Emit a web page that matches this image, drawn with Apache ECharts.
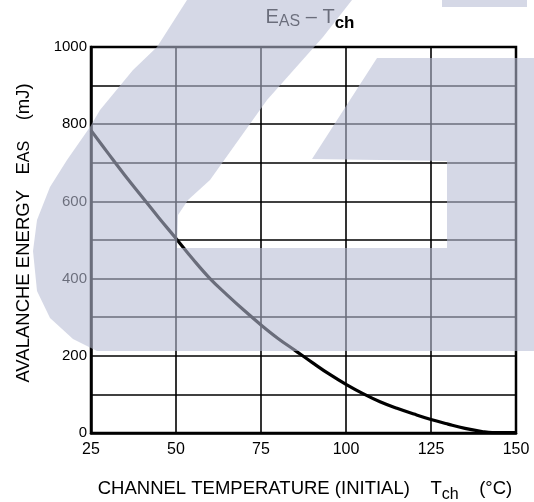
<!DOCTYPE html>
<html><head><meta charset="utf-8">
<script src="https://cdn.jsdelivr.net/npm/echarts@6/dist/echarts.min.js"></script>
<style>html,body{margin:0;padding:0;background:#fff}#c{width:534px;height:502px}</style>
</head><body><div id="c"></div>
<script>
const temps = [25,30,35,40,45,50,55,60,65,70,75,80,85,90,95,100,105,110,115,120,125,130,135,140,143,150];
const energy = [784,725,667,612,557,504,450,400,358,318,280,245,214,183,153,126,102,81,64,49,35,23,12,4,1,1];
const xTicks = [25,50,75,100,125,150];
const yTicks = [0,200,400,600,800,1000];

const chart = echarts.init(document.getElementById('c'));
const font = 'Liberation Sans, Arial, sans-serif';
const wm = 'rgba(182,188,212,0.58)';
chart.setOption({
  animation:false,
  title:{
    text:'{m|E}{s|AS}{m| – T}{b|ch}',
    left:305, top:-2, textAlign:'center',
    textStyle:{fontWeight:'normal',rich:{
      m:{fontSize:20,fontFamily:font,fontWeight:'normal',color:'#000',lineHeight:24,verticalAlign:'bottom'},
      s:{fontSize:16,fontFamily:font,fontWeight:'normal',color:'#000',lineHeight:24,verticalAlign:'bottom',padding:[0,0,-3,0]},
      b:{fontSize:17,fontFamily:font,fontWeight:'bold',color:'#000',lineHeight:24,verticalAlign:'bottom',padding:[0,0,-5,0]}
    }}
  },
  grid:{left:91,right:18,top:47,bottom:69,outerBoundsMode:'none',containLabel:false,
    show:true,borderColor:'#000',borderWidth:2.5,backgroundColor:'transparent'},
  xAxis:{
    type:'value',min:25,max:150,interval:25,
    axisLine:{show:true,lineStyle:{color:'#000',width:2.5}},
    axisTick:{show:false},
    splitLine:{show:true,lineStyle:{color:'#000',width:1.6}},
    axisLabel:{color:'#000',fontSize:16,fontFamily:font,margin:9,
      formatter:v=>xTicks.includes(v)?String(v):''},
    name:'{m|CHANNEL TEMPERATURE (INITIAL)    T}{s|ch}{m|    (°C)}',
    nameLocation:'middle',nameGap:41,
    nameTextStyle:{padding:[0,0,0,3],rich:{
      m:{fontSize:18.5,fontFamily:font,color:'#000',lineHeight:24,verticalAlign:'bottom'},
      s:{fontSize:16,fontFamily:font,color:'#000',lineHeight:24,verticalAlign:'bottom',padding:[0,0,-5,0]}
    }}
  },
  yAxis:{
    type:'value',min:0,max:1000,interval:100,
    axisLine:{show:true,lineStyle:{color:'#000',width:2.5}},
    axisTick:{show:false},
    splitLine:{show:true,lineStyle:{color:'#000',width:1.6}},
    axisLabel:{color:'#000',fontSize:15,fontFamily:font,margin:4,
      formatter:v=>yTicks.includes(v)?String(v):''},
    name:'{m|AVALANCHE ENERGY   E}{s|AS}{m|    (mJ)}',
    nameLocation:'middle',nameGap:58,nameRotate:90,
    nameTextStyle:{padding:[0,0,0,14],rich:{
      m:{fontSize:18.5,fontFamily:font,color:'#000',lineHeight:24,verticalAlign:'bottom'},
      s:{fontSize:16,fontFamily:font,color:'#000',lineHeight:24,verticalAlign:'bottom'}
    }}
  },
  series:[{
    type:'line',smooth:0.4,symbol:'none',
    data:temps.map((t,i)=>[t,energy[i]]),
    lineStyle:{color:'#000',width:3.2}
  }],
  graphic:[
    {type:'polygon',z:100,silent:true,style:{fill:wm},shape:{points:[
      [187,0],[352,0],[323,37],[267,100],[210,180],[188,200],[178,215],[177,248],
      [447,248],[447,161],[312,159],[377,58],[534,58],[534,351],
      [97,351],[73,339],[50,318],[37,291],[33,251],[37,220],[50,187],[67,160],
      [90,127],[100,110],[133,70],[157,47]
    ]}},
    {type:'rect',z:100,silent:true,style:{fill:wm},shape:{x:442,y:0,width:85,height:7}}
  ]
});
</script></body></html>
